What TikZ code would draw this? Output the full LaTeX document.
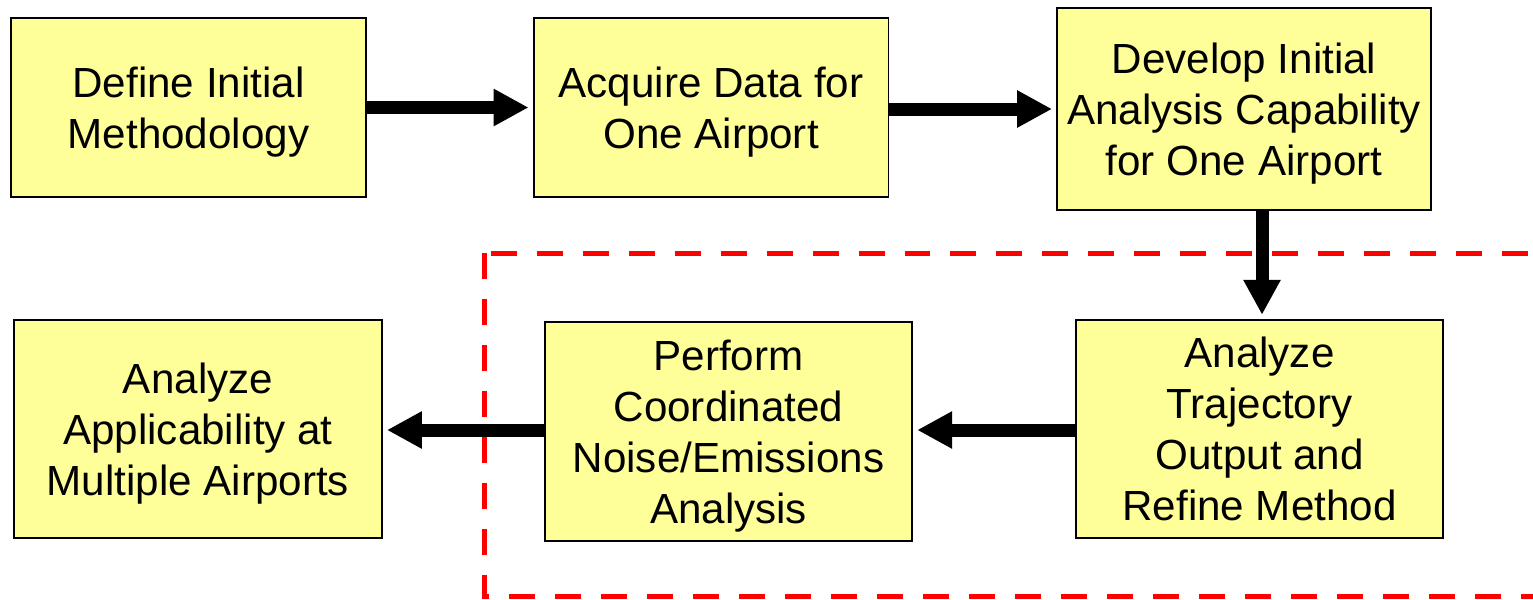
\documentclass[tikz,border=0pt]{standalone}
\usepackage{fontspec}
\setmainfont{Liberation Sans}
\usepackage{xcolor}
\usepackage{tikz}
\usetikzlibrary{arrows.meta,positioning,calc}

\definecolor{padyellow}{HTML}{FFFF99}
\definecolor{frame}{HTML}{FF0000}

\begin{document}
\begin{tikzpicture}[
    x=0.02cm, y=-0.02cm,
    block/.style={rectangle, draw, line width=1.1pt, fill=padyellow, align=center, inner sep=2pt, text depth=0pt, font=\fontsize{24}{29}\selectfont},
    wide/.style={block, minimum width=7.1cm, minimum height=3.58cm},
    tall/.style={block, minimum width=7.35cm, minimum height=4.37cm},
    arrow/.style={-{Triangle[length=0.7cm, width=0.7cm]}, line width=0.26cm, shorten >=0.08cm},
    zone/.style={draw=frame, line width=0.1cm, dash pattern=on 0.52cm off 0.4cm},
]
\useasboundingbox (0,0) rectangle (1533,599);

\node[wide] (define) at (188.5,107.5) {Define Initial\\Methodology};
\node[wide] (acquire) at (711,107.5) {Acquire Data for\\One Airport};
\node[block, minimum width=7.48cm, minimum height=4.04cm] (develop) at (1244,109) {Develop Initial\\Analysis Capability\\for One Airport};
\node[tall, minimum width=7.34cm] (trajectory) at (1259.5,429) {Analyze\\Trajectory\\Output and\\Refine Method};
\node[tall, minimum height=4.38cm] (perform) at (728.5,431.5) {Perform\\Coordinated\\Noise/Emissions\\Analysis};
\node[tall, minimum width=7.36cm] (applicable) at (198,429) {Analyze\\Applicability at\\Multiple Airports};

% refined region
\draw[zone] (484,253) rectangle (1560,596);

\draw[arrow] (define) -- (acquire);
\draw[arrow] (acquire.east |- 0,109) -- (develop.west |- 0,109);
\draw[arrow] (develop.south -| 1262,0) -- (trajectory.north -| 1262,0);
\draw[arrow] (trajectory.west |- 0,430) -- (perform.east |- 0,430);
\draw[arrow] (perform.west |- 0,430) -- (applicable.east |- 0,430);
\end{tikzpicture}
\end{document}
